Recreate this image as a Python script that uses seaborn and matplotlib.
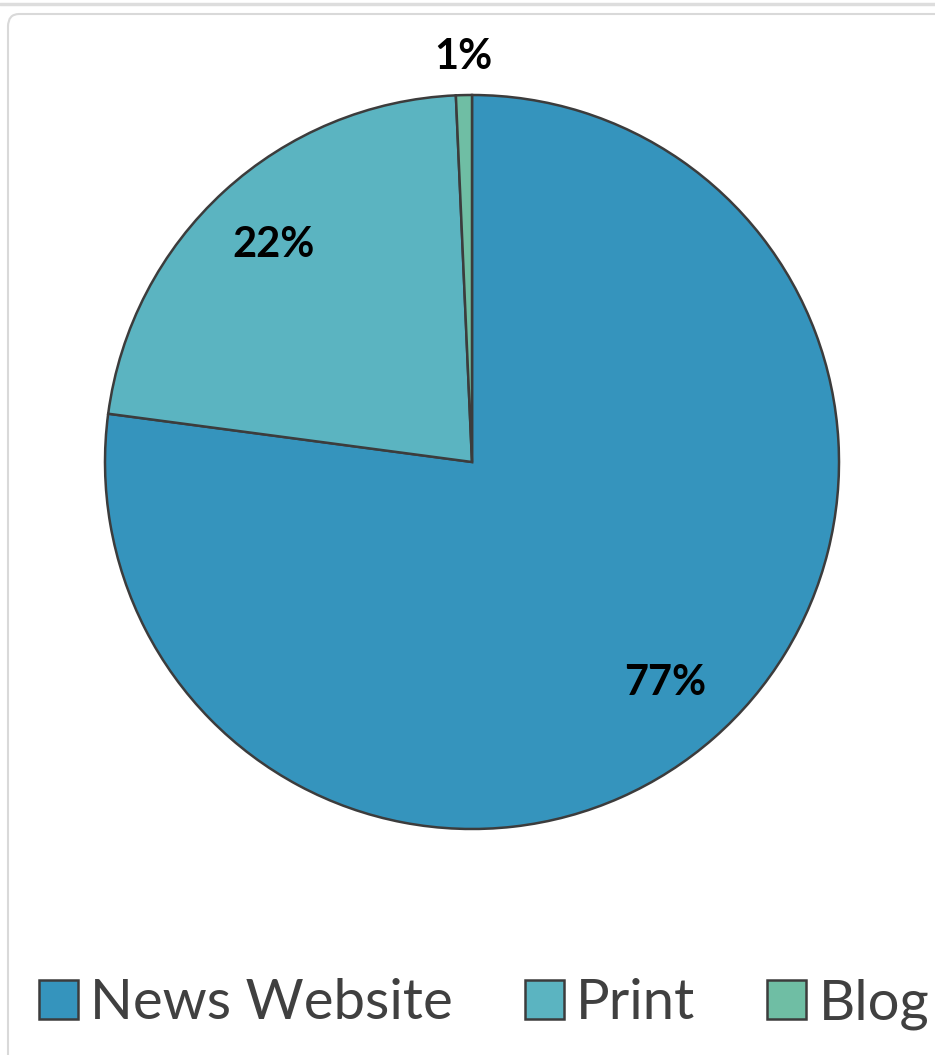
import numpy as np
import matplotlib
matplotlib.use("Agg")
import matplotlib.pyplot as plt
import seaborn as sns
from matplotlib.patches import FancyBboxPatch, Patch
from matplotlib.lines import Line2D

sns.set_theme(style="white")
plt.rcParams['font.family'] = ['Lato', 'DejaVu Sans']

categories = ["News Website", "Print", "Blog"]
values = [77.1, 22.2, 0.7]
colors = ["#3594BD", "#5BB4C1", "#6FBEA4"]

W, H = 935, 1055
fig = plt.figure(figsize=(W / 100, H / 100), dpi=100)
fig.patch.set_facecolor("white")

# frame decorations
fig.add_artist(Line2D([0, 1], [1 - 4 / H, 1 - 4 / H], color="#dddddd", lw=2.5, transform=fig.transFigure))
fig.add_artist(FancyBboxPatch((8 / W, -0.05), 1.2, 1 - 14 / H + 0.05,
                              boxstyle="round,pad=0,rounding_size=0.012",
                              transform=fig.transFigure, facecolor="none",
                              edgecolor="#d9d9d9", lw=1.5))

ax = fig.add_axes([0, 0, 1, 1])

cx, cy, r = 472, H - 462, 367
wedges, texts, autotexts = ax.pie(
    values, colors=colors, startangle=90, counterclock=False,
    center=(cx, cy), radius=r, autopct="%1.0f%%", pctdistance=0.80,
    wedgeprops=dict(edgecolor="#3c3c3c", linewidth=1.8),
    textprops=dict(fontsize=30, fontweight="bold", color="black"),
)
ax.set_xlim(0, W)
ax.set_ylim(0, H)
ax.set_aspect("equal")
ax.axis("off")

# small slice label outside the pie
for w, t, v in zip(wedges, autotexts, values):
    if v < 5:
        ang = np.deg2rad((w.theta1 + w.theta2) / 2)
        t.set_position((cx + 1.105 * r * np.cos(ang), cy + 1.105 * r * np.sin(ang)))

handles = [Patch(facecolor=c, edgecolor="#3c3c3c", linewidth=1.8) for c in colors]
leg = fig.legend(handles, categories, ncol=3, loc="center left",
                 bbox_to_anchor=(39 / W, 1 - 1004 / H), frameon=False,
                 fontsize=40.5, handlelength=0.69, handleheight=0.69,
                 handletextpad=0.22, columnspacing=1.28, labelcolor="#404040",
                 borderpad=0, borderaxespad=0)

fig.savefig("out.png", dpi=100, facecolor="white")
